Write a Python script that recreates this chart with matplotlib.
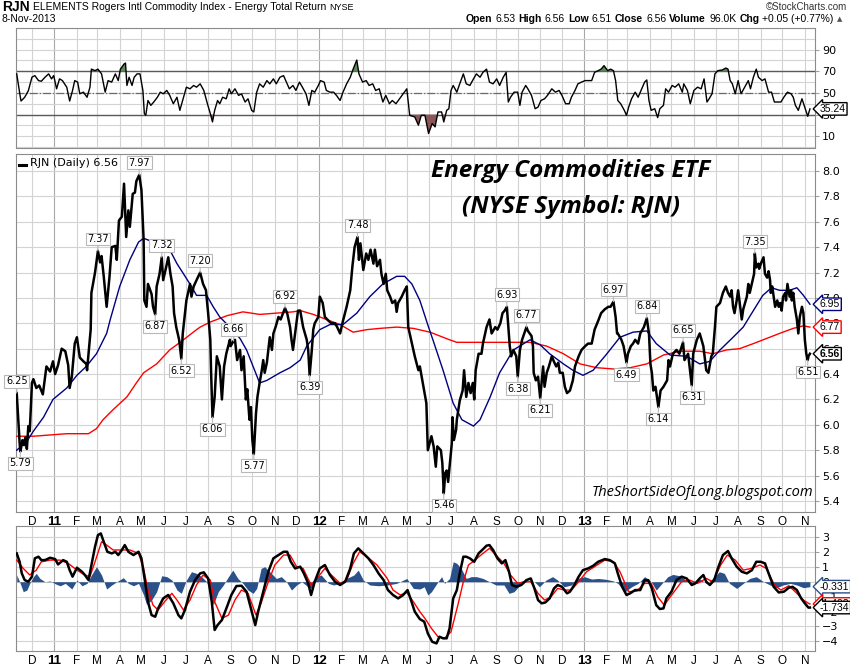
import numpy as np
import pandas as pd
import matplotlib
matplotlib.use('Agg')
import matplotlib.pyplot as plt
from matplotlib.transforms import IdentityTransform

# every *_pts list is (day, value), day counted from 2010-11-09
start = pd.Timestamp('2010-11-09')

close_pts = [
    (1, 6.25), (5, 5.86), (6, 5.79), (9, 5.88), (11, 5.84), (13, 5.90), (15, 5.81), (17, 5.99), (19, 5.95), (22, 6.33),
    (24, 6.36), (28, 6.29), (32, 6.31), (37, 6.24), (42, 6.46), (47, 6.42), (51, 6.50), (54, 6.40), (58, 6.47), (63, 6.60),
    (68, 6.58), (72, 6.47), (74, 6.29), (77, 6.38), (81, 6.64), (84, 6.69), (88, 6.53), (93, 6.50), (97, 6.48), (98, 6.43),
    (101, 6.62), (103, 6.75), (104, 7.04), (109, 7.20), (113, 7.37), (116, 7.28), (118, 7.33), (121, 7.17), (125, 6.93), (129, 7.17),
    (132, 7.40), (137, 7.41), (139, 7.30), (142, 7.61), (146, 7.64), (149, 7.90), (152, 7.48), (155, 7.69), (157, 7.56), (161, 7.82),
    (164, 7.83), (166, 7.92), (170, 7.97), (173, 7.85), (176, 7.46), (177, 6.98), (180, 6.93), (182, 7.11), (187, 7.03), (189, 6.93),
    (192, 6.87), (194, 7.09), (198, 7.19), (201, 7.32), (203, 7.14), (207, 7.24), (210, 7.32), (213, 7.19), (216, 7.09), (218, 6.88),
    (221, 6.77), (225, 6.67), (228, 6.52), (230, 6.72), (235, 6.98), (240, 7.11), (242, 7.01), (245, 7.09), (249, 7.14), (254, 7.20),
    (258, 7.11), (262, 7.06), (265, 6.88), (268, 6.67), (269, 6.43), (271, 6.06), (274, 6.22), (277, 6.54), (281, 6.46), (284, 6.20),
    (287, 6.46), (290, 6.56), (295, 6.67), (296, 6.62), (300, 6.66), (302, 6.67), (305, 6.51), (309, 6.59), (311, 6.43), (314, 6.54),
    (317, 6.20), (319, 6.28), (322, 6.04), (324, 6.14), (326, 5.88), (328, 5.77), (331, 6.09), (333, 6.22), (336, 6.33), (339, 6.43),
    (341, 6.51), (343, 6.41), (346, 6.49), (348, 6.59), (350, 6.69), (353, 6.59), (355, 6.72), (358, 6.77), (362, 6.85), (365, 6.83),
    (371, 6.92), (374, 6.88), (378, 6.77), (380, 6.67), (382, 6.59), (385, 6.72), (389, 6.90), (392, 6.90), (396, 6.77), (401, 6.67),
    (403, 6.59), (405, 6.39), (408, 6.59), (410, 6.75), (412, 6.80), (417, 6.85), (419, 7.01), (423, 6.96), (426, 6.85), (431, 6.82),
    (435, 6.80), (440, 6.80), (443, 6.77), (447, 6.72), (449, 6.77), (451, 6.82), (456, 6.93), (461, 7.06), (464, 7.25), (467, 7.40),
    (471, 7.48), (473, 7.30), (475, 7.43), (479, 7.22), (483, 7.35), (486, 7.30), (489, 7.38), (493, 7.27), (495, 7.38), (498, 7.25),
    (502, 7.30), (504, 7.19), (507, 7.11), (510, 7.19), (512, 7.06), (516, 7.01), (519, 6.96), (523, 6.98), (525, 6.89), (527, 6.96),
    (532, 7.01), (536, 7.06), (539, 7.09), (541, 6.77), (546, 6.64), (550, 6.54), (555, 6.43), (557, 6.46), (561, 6.33), (566, 6.17),
    (568, 5.80), (573, 5.91), (576, 5.83), (579, 5.67), (581, 5.83), (586, 5.80), (588, 5.70), (590, 5.46), (592, 5.62), (594, 5.64),
    (596, 5.55), (598, 5.67), (601, 5.85), (602, 6.06), (604, 5.88), (607, 5.96), (608, 6.04), (612, 6.19), (616, 6.27), (618, 6.43),
    (621, 6.22), (624, 6.33), (627, 6.25), (630, 6.33), (632, 6.20), (634, 6.43), (638, 6.56), (642, 6.56), (644, 6.64), (647, 6.72),
    (649, 6.77), (653, 6.83), (656, 6.72), (661, 6.77), (664, 6.75), (668, 6.80), (671, 6.88), (674, 6.90), (677, 6.93), (679, 6.77),
    (681, 6.62), (683, 6.54), (686, 6.59), (690, 6.54), (692, 6.38), (695, 6.59), (698, 6.67), (701, 6.72), (704, 6.77), (706, 6.74),
    (711, 6.70), (713, 6.62), (714, 6.41), (717, 6.35), (720, 6.38), (723, 6.21), (727, 6.46), (729, 6.30), (732, 6.41), (735, 6.46),
    (739, 6.54), (741, 6.51), (745, 6.46), (748, 6.49), (750, 6.41), (754, 6.41), (757, 6.30), (760, 6.25), (764, 6.27), (768, 6.35),
    (771, 6.46), (776, 6.54), (780, 6.59), (785, 6.62), (789, 6.64), (794, 6.64), (798, 6.75), (803, 6.82), (807, 6.88), (812, 6.91),
    (817, 6.93), (820, 6.93), (824, 6.97), (827, 6.85), (829, 6.72), (830, 6.72), (833, 6.69), (835, 6.67), (838, 6.62), (842, 6.49),
    (844, 6.56), (848, 6.62), (851, 6.64), (854, 6.67), (858, 6.64), (861, 6.72), (866, 6.77), (870, 6.84), (873, 6.72), (875, 6.48),
    (877, 6.41), (879, 6.27), (882, 6.30), (886, 6.14), (889, 6.27), (893, 6.30), (898, 6.35), (900, 6.51), (902, 6.46), (906, 6.56),
    (911, 6.59), (915, 6.56), (920, 6.65), (922, 6.51), (927, 6.56), (932, 6.31), (934, 6.56), (939, 6.67), (943, 6.72), (948, 6.62),
    (952, 6.43), (955, 6.41), (959, 6.54), (961, 6.56), (964, 6.77), (966, 6.93), (971, 6.96), (975, 7.04), (979, 7.09), (982, 7.04),
    (985, 7.01), (987, 7.06), (989, 6.93), (991, 6.88), (994, 6.98), (996, 7.06), (1001, 6.83), (1003, 6.91), (1008, 7.01), (1010, 7.11),
    (1012, 7.04), (1016, 7.14), (1018, 7.19), (1019, 7.35), (1021, 7.24), (1024, 7.27), (1025, 7.23), (1028, 7.28), (1031, 7.32), (1033, 7.19),
    (1036, 7.16), (1038, 7.21), (1040, 7.14), (1041, 7.04), (1043, 7.09), (1045, 7.01), (1047, 6.93), (1050, 6.98), (1052, 6.93), (1054, 6.96),
    (1056, 6.90), (1058, 7.01), (1061, 7.04), (1062, 6.98), (1064, 7.11), (1067, 7.01), (1069, 7.06), (1070, 6.98), (1072, 7.04), (1074, 6.93),
    (1077, 6.83), (1079, 6.72), (1081, 6.85), (1084, 6.93), (1086, 6.88), (1088, 6.67), (1090, 6.56), (1092, 6.51), (1093, 6.54), (1095, 6.56),
]

sma50_pts = [
    (1, 5.80), (15, 5.87), (24, 5.95), (38, 6.06), (51, 6.20), (70, 6.29), (84, 6.39), (97, 6.46), (111, 6.56), (125, 6.72),
    (130, 6.83), (143, 7.09), (157, 7.30), (169, 7.44), (176, 7.47), (185, 7.45), (199, 7.42), (212, 7.38), (222, 7.27), (231, 7.19),
    (242, 7.09), (249, 7.02), (263, 7.02), (272, 6.93), (281, 6.85), (295, 6.77), (309, 6.68), (318, 6.59), (327, 6.46), (336, 6.33),
    (346, 6.35), (364, 6.41), (378, 6.45), (392, 6.51), (401, 6.62), (419, 6.75), (433, 6.79), (451, 6.79), (470, 6.88), (488, 7.01),
    (506, 7.11), (525, 7.17), (536, 7.17), (546, 7.11), (557, 6.98), (569, 6.77), (575, 6.67), (589, 6.43), (603, 6.17), (615, 6.04),
    (631, 5.99), (640, 6.04), (654, 6.22), (667, 6.41), (686, 6.59), (709, 6.67), (723, 6.63), (736, 6.56), (755, 6.48), (768, 6.43),
    (782, 6.39), (796, 6.43), (815, 6.56), (833, 6.69), (851, 6.73), (870, 6.74), (883, 6.64), (902, 6.55), (925, 6.54), (943, 6.48),
    (957, 6.50), (971, 6.59), (989, 6.69), (1003, 6.77), (1017, 6.90), (1030, 7.02), (1042, 7.08), (1053, 7.06), (1067, 7.06), (1077, 7.08),
    (1086, 7.02), (1095, 6.95),
]

sma200_pts = [
    (1, 5.91), (24, 5.91), (47, 5.92), (70, 5.93), (100, 5.93), (111, 5.97), (120, 6.04), (134, 6.12), (153, 6.22), (166, 6.33),
    (176, 6.41), (194, 6.48), (212, 6.59), (231, 6.67), (249, 6.75), (254, 6.77), (268, 6.81), (291, 6.86), (313, 6.89), (336, 6.87),
    (359, 6.88), (382, 6.89), (392, 6.90), (410, 6.87), (428, 6.83), (447, 6.79), (465, 6.73), (484, 6.75), (502, 6.76), (525, 6.77),
    (548, 6.76), (571, 6.73), (589, 6.69), (598, 6.67), (608, 6.65), (640, 6.65), (686, 6.65), (709, 6.65), (732, 6.62), (755, 6.56),
    (778, 6.48), (801, 6.45), (824, 6.44), (847, 6.45), (870, 6.48), (893, 6.55), (916, 6.58), (943, 6.58), (961, 6.56), (980, 6.59),
    (998, 6.60), (1017, 6.64), (1035, 6.68), (1053, 6.72), (1072, 6.76), (1086, 6.78), (1095, 6.77),
]

rsi_pts = [
    (1, 67.6), (6, 46.0), (7, 42.5), (12, 46.0), (17, 52.0), (22, 64.5), (26, 66.0), (31, 61.4), (35, 60.8), (40, 64.5),
    (45, 67.6), (49, 63.0), (52, 66.0), (56, 53.8), (60, 63.0), (64, 61.4), (70, 55.3), (74, 42.5), (78, 52.3), (81, 61.4),
    (85, 60.0), (88, 49.2), (93, 50.7), (98, 46.0), (102, 55.3), (104, 72.0), (109, 70.6), (113, 72.0), (118, 67.6), (123, 50.7),
    (127, 61.4), (132, 60.0), (137, 67.6), (141, 61.4), (144, 72.0), (149, 76.7), (151, 77.6), (153, 56.9), (156, 64.5), (160, 56.9),
    (163, 64.5), (167, 67.6), (171, 67.6), (175, 52.3), (177, 30.9), (179, 29.3), (182, 43.0), (186, 38.5), (190, 41.6), (195, 46.0),
    (199, 50.7), (203, 49.2), (208, 52.3), (212, 47.7), (217, 40.0), (222, 46.0), (226, 33.9), (231, 46.0), (235, 55.3), (240, 53.8),
    (245, 56.9), (249, 55.3), (254, 58.4), (259, 52.3), (264, 40.0), (268, 30.9), (271, 23.2), (274, 33.9), (278, 43.0), (281, 40.0),
    (285, 46.0), (290, 44.6), (294, 53.8), (297, 49.2), (302, 53.8), (307, 47.7), (311, 49.2), (316, 41.6), (320, 44.6), (325, 33.9),
    (328, 32.4), (332, 50.7), (336, 58.4), (341, 55.3), (346, 61.4), (350, 58.4), (355, 63.0), (359, 58.4), (364, 64.5), (369, 66.0),
    (372, 61.4), (377, 53.8), (382, 56.9), (386, 52.3), (391, 60.0), (395, 55.3), (400, 49.2), (404, 38.5), (408, 52.3), (412, 50.7),
    (417, 56.9), (420, 61.4), (425, 60.0), (428, 52.3), (433, 50.7), (438, 50.7), (442, 47.7), (447, 43.0), (451, 50.7), (456, 58.4),
    (461, 64.5), (465, 72.0), (470, 80.4), (473, 67.6), (478, 60.0), (483, 61.4), (487, 56.9), (492, 58.4), (496, 52.3), (501, 53.8),
    (506, 41.6), (510, 47.7), (515, 40.0), (519, 43.0), (524, 40.0), (529, 44.6), (534, 49.2), (539, 53.8), (543, 29.3), (550, 27.8),
    (555, 20.2), (559, 29.3), (564, 29.3), (569, 12.5), (574, 21.7), (578, 18.6), (582, 32.4), (587, 32.4), (590, 23.2), (594, 33.9),
    (597, 35.4), (600, 52.3), (603, 56.9), (608, 50.7), (612, 58.4), (617, 67.6), (621, 58.4), (626, 56.9), (631, 63.0), (635, 67.6),
    (640, 64.5), (644, 69.0), (649, 72.0), (653, 60.0), (658, 58.4), (663, 63.0), (667, 56.9), (672, 64.5), (676, 69.0), (679, 41.6),
    (682, 46.0), (687, 50.7), (692, 50.7), (695, 38.5), (698, 50.7), (703, 56.9), (706, 53.8), (711, 47.7), (716, 35.4), (720, 36.9),
    (724, 43.0), (729, 44.6), (733, 47.7), (739, 53.8), (744, 50.7), (749, 52.3), (753, 47.7), (758, 40.0), (763, 40.0), (766, 46.0),
    (771, 52.3), (775, 58.4), (780, 60.0), (785, 61.4), (789, 61.4), (794, 61.4), (798, 69.0), (803, 70.6), (807, 72.0), (811, 75.2),
    (816, 70.6), (820, 72.0), (824, 70.6), (827, 61.4), (830, 43.0), (834, 40.0), (839, 33.9), (842, 29.3), (845, 36.9), (849, 44.6),
    (854, 50.7), (858, 46.0), (863, 53.8), (867, 60.0), (870, 62.0), (873, 43.0), (876, 33.9), (881, 35.4), (885, 27.2), (888, 35.4),
    (893, 38.5), (896, 53.8), (900, 50.7), (905, 56.9), (909, 55.3), (914, 58.4), (919, 50.7), (921, 58.4), (926, 52.3), (930, 40.0),
    (935, 52.3), (940, 55.3), (945, 53.8), (949, 63.0), (953, 41.6), (956, 44.6), (960, 49.2), (964, 67.6), (968, 70.6), (974, 71.2),
    (979, 73.0), (982, 72.0), (985, 61.4), (988, 58.4), (992, 49.2), (996, 61.4), (1000, 49.2), (1005, 55.3), (1010, 61.4), (1013, 53.8),
    (1017, 64.5), (1021, 72.0), (1024, 64.5), (1029, 61.4), (1033, 63.0), (1038, 50.7), (1042, 50.7), (1046, 41.6), (1050, 41.6), (1055, 41.6),
    (1059, 46.0), (1064, 50.7), (1069, 49.2), (1072, 46.0), (1075, 38.5), (1079, 33.9), (1084, 44.6), (1087, 38.5), (1092, 28.4), (1095, 35.24),
]

ppo_pts = [
    (1, 1.90), (5, 1.34), (8, 0.56), (12, 0.11), (17, 0.00), (22, 0.34), (26, 1.57), (31, 1.68), (35, 1.45), (40, 1.45),
    (47, 1.61), (54, 1.52), (58, 1.16), (65, 1.45), (70, 1.34), (74, 0.78), (78, 0.34), (84, 0.94), (91, 0.67), (95, 0.45),
    (100, 0.11), (104, 1.12), (109, 2.35), (113, 3.13), (117, 3.24), (121, 2.68), (126, 2.01), (132, 1.90), (137, 2.01), (141, 1.79),
    (146, 2.13), (150, 2.46), (155, 2.01), (162, 1.79), (169, 2.01), (173, 1.57), (178, 0.00), (182, -1.34), (187, -2.24), (192, -2.35),
    (196, -1.79), (203, -1.12), (210, -0.89), (217, -1.45), (224, -2.24), (228, -2.46), (233, -1.90), (240, -0.67), (247, 0.11), (254, 0.56),
    (259, 0.63), (265, 0.22), (270, -1.34), (274, -3.24), (278, -2.91), (284, -2.57), (291, -1.68), (297, -0.89), (304, -0.29), (311, -0.27),
    (318, -0.67), (324, -1.79), (330, -2.91), (334, -2.01), (341, -0.67), (348, 0.67), (355, 1.57), (362, 1.79), (369, 2.01), (374, 2.01),
    (379, 1.34), (385, 0.89), (392, 1.01), (397, 0.56), (403, -0.11), (407, -0.89), (412, 0.00), (419, 0.89), (426, 1.12), (433, 0.45),
    (440, 0.00), (447, -0.22), (454, 0.00), (461, 0.89), (466, 1.90), (472, 2.24), (479, 1.90), (486, 1.57), (493, 1.12), (500, 0.56),
    (507, 0.11), (513, -0.56), (520, -0.89), (527, -1.12), (534, -0.89), (540, -0.56), (544, -1.12), (550, -2.01), (557, -2.51), (563, -2.68),
    (568, -3.47), (574, -4.03), (580, -4.14), (584, -3.69), (589, -3.80), (594, -3.80), (598, -3.13), (603, -1.12), (608, -0.56), (612, 0.56),
    (617, 1.68), (621, 1.68), (626, 1.57), (632, 1.34), (638, 1.90), (643, 2.13), (649, 2.42), (653, 2.46), (658, 2.13), (664, 1.57),
    (670, 1.23), (675, 1.45), (680, 0.67), (684, -0.22), (690, -0.34), (697, -0.22), (704, 0.11), (710, 0.22), (715, -0.45), (720, -1.23),
    (725, -1.45), (730, -1.39), (736, -1.12), (742, -0.45), (747, -0.22), (753, -0.34), (760, -0.78), (764, -0.67), (770, -0.22), (776, 0.34),
    (782, 0.78), (789, 0.89), (796, 1.07), (803, 1.34), (812, 1.52), (819, 1.45), (826, 1.23), (830, 0.56), (836, -0.34), (842, -0.89),
    (847, -0.78), (854, -0.56), (861, -0.56), (867, 0.11), (872, 0.11), (877, -0.45), (883, -1.57), (888, -1.83), (893, -1.79), (897, -1.12),
    (904, -0.67), (911, 0.11), (918, 0.34), (925, 0.22), (932, -0.22), (937, -0.11), (943, 0.22), (948, 0.45), (952, 0.00), (957, -0.22),
    (963, 0.11), (968, 0.89), (975, 1.79), (982, 2.06), (987, 1.57), (994, 1.01), (1001, 0.67), (1008, 0.56), (1015, 0.78), (1021, 1.34),
    (1027, 1.34), (1033, 1.23), (1038, 0.56), (1045, -0.34), (1052, -0.72), (1059, -0.67), (1066, -0.40), (1071, -0.34), (1077, -0.56), (1083, -1.12),
    (1088, -1.45), (1093, -1.74), (1095, -1.734),
]

signal_pts = [
    (1, 1.45), (10, 0.89), (19, 0.45), (28, 0.78), (35, 1.34), (47, 1.45), (61, 1.45), (72, 1.23), (84, 0.78), (95, 0.45),
    (102, 0.34), (109, 1.34), (118, 2.68), (125, 2.46), (134, 2.13), (146, 2.13), (157, 2.13), (169, 1.90), (176, 0.89), (182, -0.56),
    (189, -1.57), (196, -1.90), (205, -1.34), (215, -0.78), (222, -1.23), (231, -1.90), (240, -1.23), (249, -0.22), (258, 0.45), (268, 0.11),
    (274, -1.34), (284, -2.46), (293, -2.24), (302, -1.23), (311, -0.56), (320, -0.78), (331, -2.24), (338, -1.45), (348, 0.00), (357, 1.12),
    (369, 1.79), (378, 1.79), (387, 1.01), (396, 0.89), (407, -0.22), (417, 0.34), (426, 0.89), (435, 0.45), (447, -0.11), (456, 0.11),
    (465, 1.23), (474, 2.01), (484, 1.68), (498, 1.12), (512, 0.22), (520, -0.56), (530, -0.89), (539, -0.72), (548, -1.34), (557, -2.01),
    (564, -2.46), (573, -3.13), (582, -3.69), (591, -3.80), (600, -3.36), (610, -1.45), (617, 0.00), (624, 1.12), (633, 1.45), (644, 1.90),
    (653, 2.24), (662, 1.79), (673, 1.23), (682, 0.45), (692, -0.11), (701, 0.00), (710, 0.00), (720, -0.78), (729, -1.23), (738, -1.01),
    (747, -0.45), (757, -0.56), (766, -0.56), (776, 0.00), (787, 0.67), (798, 1.01), (812, 1.45), (824, 1.34), (833, 0.67), (845, -0.67),
    (856, -0.63), (867, -0.11), (876, -0.11), (885, -1.01), (894, -1.57), (906, -0.78), (918, 0.00), (929, 0.11), (940, -0.11), (952, 0.22),
    (961, 0.00), (972, 1.12), (981, 1.79), (992, 1.45), (1003, 0.78), (1014, 0.89), (1026, 1.12), (1035, 0.89), (1046, -0.22), (1055, -0.56),
    (1066, -0.27), (1077, -0.78), (1086, -1.23), (1093, -1.45), (1095, -1.493),
]

hist_pts = [
    (1, 0.45), (5, 0.00), (10, -0.67), (15, -0.56), (19, -0.11), (24, 0.34), (28, 0.56), (33, 0.22), (40, 0.00), (47, 0.05),
    (56, -0.18), (61, -0.27), (68, -0.11), (77, -0.49), (84, 0.11), (91, -0.27), (98, -0.11), (104, 0.45), (111, 1.01), (118, 0.45),
    (125, -0.49), (132, -0.22), (139, 0.00), (148, 0.27), (155, -0.11), (162, -0.27), (169, -0.11), (176, -0.89), (180, -1.52), (187, -1.23),
    (194, -0.67), (201, 0.40), (208, 0.34), (215, 0.11), (222, -0.56), (228, -0.78), (235, 0.11), (242, 0.67), (249, 0.56), (256, 0.34),
    (263, 0.00), (268, -0.67), (272, -1.57), (279, -0.67), (286, -0.22), (293, 0.34), (299, 0.78), (306, 0.22), (313, -0.11), (320, -0.56),
    (327, -0.78), (332, -0.45), (338, 0.89), (343, 1.01), (350, 0.67), (359, 0.22), (366, 0.34), (373, 0.00), (380, -0.56), (387, -0.22),
    (394, 0.00), (401, -0.27), (407, -0.45), (414, 0.34), (421, 0.45), (431, -0.11), (438, -0.22), (447, -0.11), (456, 0.22), (466, 0.45),
    (472, 0.78), (479, 0.11), (488, -0.22), (500, -0.27), (512, -0.22), (525, -0.11), (539, 0.22), (548, -0.45), (557, -0.49), (563, -0.34),
    (568, -0.89), (573, -0.67), (582, 0.00), (587, 0.34), (591, -0.11), (598, 0.22), (603, 1.34), (608, 1.23), (614, 0.89), (621, 0.22),
    (628, 0.34), (635, 0.34), (644, 0.22), (653, 0.00), (662, -0.22), (673, -0.22), (680, -0.78), (687, -0.67), (697, -0.11), (706, 0.00),
    (715, 0.00), (722, -0.34), (731, 0.11), (740, 0.34), (747, 0.11), (756, -0.34), (766, -0.22), (775, 0.22), (784, 0.34), (794, 0.18),
    (803, 0.22), (814, 0.16), (824, 0.05), (830, -0.11), (840, -0.67), (849, -0.34), (858, -0.11), (867, 0.34), (876, 0.00), (883, -0.56),
    (891, -0.11), (899, 0.34), (906, 0.49), (915, 0.40), (924, 0.11), (933, -0.11), (943, 0.18), (952, -0.11), (961, 0.22), (970, 0.67),
    (977, 0.56), (984, -0.11), (994, -0.45), (1003, -0.11), (1012, 0.22), (1021, 0.34), (1031, 0.00), (1040, -0.22), (1049, -0.40), (1058, -0.22),
    (1068, -0.11), (1077, -0.22), (1086, -0.40), (1095, -0.331),
]

# labelled highs / lows on the price panel
peak_day = [1, 6, 113, 170, 192, 201, 228, 254, 271, 300, 328, 371, 405, 471, 590,
            677, 692, 704, 723, 824, 842, 870, 886, 920, 932, 1019, 1092]
peak_val = [6.25, 5.79, 7.37, 7.97, 6.87, 7.32, 6.52, 7.20, 6.06, 6.66, 5.77, 6.92, 6.39, 7.48, 5.46,
            6.93, 6.38, 6.77, 6.21, 6.97, 6.49, 6.84, 6.14, 6.65, 6.31, 7.35, 6.51]
peak_up = [1, 0, 1, 1, 0, 1, 0, 1, 0, 1, 0, 1, 0, 1, 0,
           1, 0, 1, 0, 1, 0, 1, 0, 1, 0, 1, 0]

W, H = 850, 668
GRID = '#d3d3d3'
EDGE = '#8c8c8c'
SANS = ['Liberation Sans', 'DejaVu Sans']
HIST_BLUE = '#2a5189'


def unzip(pts):
    a = np.array(pts, dtype=float)
    return a[:, 0], a[:, 1]


months = pd.date_range('2010-12-01', '2013-11-01', freq='MS')
month_pos = [(m - start).days for m in months]
month_lab = [m.strftime('%y') if m.month == 1 else m.strftime('%b')[0] for m in months]

fig = plt.figure(figsize=(W / 100, H / 100), dpi=100)
fig.patch.set_facecolor('white')


def box(top, bottom):
    return [16 / W, 1 - bottom / H, 799 / W, (bottom - top) / H]


ax_rsi = fig.add_axes(box(28, 148))
ax = fig.add_axes(box(154, 512))
ax_ppo = fig.add_axes(box(526, 651))


def frame(a, ylim, hlines, yticks, xlabels):
    a.set_xlim(0, 1102)
    a.set_ylim(*ylim)
    for p, m in zip(month_pos, months):
        a.axvline(p, color='#a8a8a8' if m.month == 1 else GRID, lw=0.8, zorder=0)
    for y in hlines:
        a.axhline(y, color=GRID, lw=0.8, zorder=0)
    a.yaxis.tick_right()
    a.set_yticks(yticks)
    a.tick_params(axis='y', labelsize=8, length=3, color='#a0a0a0', pad=2)
    a.set_xticks(month_pos)
    if xlabels:
        a.set_xticklabels(month_lab, fontsize=8.5, family=SANS)
        for t, m in zip(a.get_xticklabels(), months):
            if m.month == 1:
                t.set_fontweight('bold')
                t.set_fontsize(9.5)
        a.tick_params(axis='x', length=0, pad=3)
    else:
        a.set_xticklabels([])
        a.tick_params(axis='x', length=0)
    for s in a.spines.values():
        s.set_color(EDGE)


def tag(a, val, txt, color, bold=False):
    a.text(1.006, val, txt, transform=a.get_yaxis_transform(), ha='left', va='center',
           fontsize=7.5, family=SANS, fontweight='bold' if bold else 'normal', color='black',
           bbox=dict(boxstyle='larrow,pad=0.12', fc='white', ec=color, lw=1),
           zorder=10, clip_on=False)


# ---- RSI panel
frame(ax_rsi, (-0.9, 110), range(0, 111, 10), [10, 30, 50, 70, 90], False)
d, v = unzip(rsi_pts)
ax_rsi.axhline(70, color='#5a5a5a', lw=1, zorder=1)
ax_rsi.axhline(30, color='#5a5a5a', lw=1, zorder=1)
ax_rsi.axhline(50, color='#6a6a6a', lw=0.9, ls='-.', zorder=1)
ax_rsi.fill_between(d, v, 30, where=v < 30, interpolate=True, color='#8b5656', lw=0, zorder=2)
ax_rsi.fill_between(d, v, 70, where=v > 70, interpolate=True, color='#5e8a5a', lw=0, zorder=2)
ax_rsi.plot(d, v, color='black', lw=1.0, zorder=3)
tag(ax_rsi, rsi_pts[-1][1], '35.24', 'black')

# ---- price panel
frame(ax, (5.313, 8.134), np.arange(5.4, 8.01, 0.2), np.arange(5.4, 8.01, 0.2), True)
ax.set_yticklabels([f'{t:.1f}' for t in np.arange(5.4, 8.01, 0.2)])
d, v = unzip(sma200_pts)
ax.plot(d, v, color='#ff0000', lw=1.0, zorder=3)
d, v = unzip(sma50_pts)
ax.plot(d, v, color='#000080', lw=1.0, zorder=3)
d, v = unzip(close_pts)
ax.plot(d, v, color='black', lw=1.8, zorder=4)

for pd_, pv, up in zip(peak_day, peak_val, peak_up):
    ax.annotate(f'{pv:.2f}', xy=(pd_, pv), xytext=(0, 5 if up else -5), textcoords='offset points',
                ha='center', va='bottom' if up else 'top', fontsize=7,
                bbox=dict(boxstyle='square,pad=0.15', fc='white', ec='#b8b8b8', lw=0.8),
                arrowprops=dict(arrowstyle='-', color='#b8b8b8', lw=0.8, shrinkA=0, shrinkB=0),
                zorder=6)

tag(ax, sma50_pts[-1][1], '6.95', '#000080')
tag(ax, sma200_pts[-1][1], '6.77', '#ff0000')
tag(ax, close_pts[-1][1], '6.56', 'black', bold=True)

# ---- PPO panel
frame(ax_ppo, (-4.65, 3.74), range(-4, 4), range(-4, 4), True)
d, v = unzip(hist_pts)
ax_ppo.fill_between(d, v, 0, color=HIST_BLUE, lw=0, zorder=2)
d, v = unzip(signal_pts)
ax_ppo.plot(d, v, color='#ff0000', lw=1.0, zorder=3)
d, v = unzip(ppo_pts)
ax_ppo.plot(d, v, color='black', lw=1.8, zorder=4)
tag(ax_ppo, hist_pts[-1][1], '-0.331', HIST_BLUE)
tag(ax_ppo, signal_pts[-1][1], '-1.493', '#ff0000')
tag(ax_ppo, ppo_pts[-1][1], '-1.734', 'black')


# ---- texts placed in pixels
def px(x, y, s, **kw):
    return fig.text(x, H - y, s, transform=IdentityTransform(), **kw)


def chain(x, y, parts, right=False):
    r = fig.canvas.get_renderer()
    texts = [px(0, y, s, va='center', ha='left', **kw) for s, kw in parts]
    widths = [t.get_window_extent(r).width for t in texts]
    if right:
        x -= sum(widths) + 3 * (len(widths) - 1)
    for t, w in zip(texts, widths):
        t.set_x(x)
        x += w + 3


chain(2, 7, [('RJN', dict(fontsize=10, fontweight='bold', family=SANS)),
             ('ELEMENTS Rogers Intl Commodity Index - Energy Total Return', dict(fontsize=7.5, family=SANS)),
             ('NYSE', dict(fontsize=6.5, family=SANS))])
px(2, 19, '8-Nov-2013', fontsize=7.5, family=SANS, va='center')
px(847, 7, '\u00a9StockCharts.com', fontsize=7, family=SANS, va='center', ha='right', color='#333333')
b = dict(fontsize=7.5, fontweight='bold', family=SANS)
n = dict(fontsize=7.5, family=SANS)
chain(842, 19, [('Open', b), ('6.53', n), ('High', b), ('6.56', n), ('Low', b), ('6.51', n),
                ('Close', b), ('6.56', n), ('Volume', b), ('96.0K', n), ('Chg', b), ('+0.05 (+0.77%)', n),
                ('\u25b2', dict(fontsize=5, color='#555555', family='DejaVu Sans'))], right=True)

ax.plot([0.004, 0.013], [0.97, 0.97], transform=ax.transAxes, color='black', lw=2.2, zorder=7)
px(30, 163, 'RJN (Daily) 6.56', fontsize=8, va='center', ha='left')

px(571, 171, 'Energy Commodities ETF', fontsize=17.5, fontweight='bold', style='italic',
   family=['Open Sans', 'DejaVu Sans'], ha='center', va='center')
px(571, 207, '(NYSE Symbol: RJN)', fontsize=17.5, fontweight='bold', style='italic',
   family=['Open Sans', 'DejaVu Sans'], ha='center', va='center')
px(702, 493, 'TheShortSideOfLong.blogspot.com', fontsize=10.5, style='italic',
   family=['Open Sans', 'DejaVu Sans'], ha='center', va='center')

fig.savefig('out.png', dpi=100)
